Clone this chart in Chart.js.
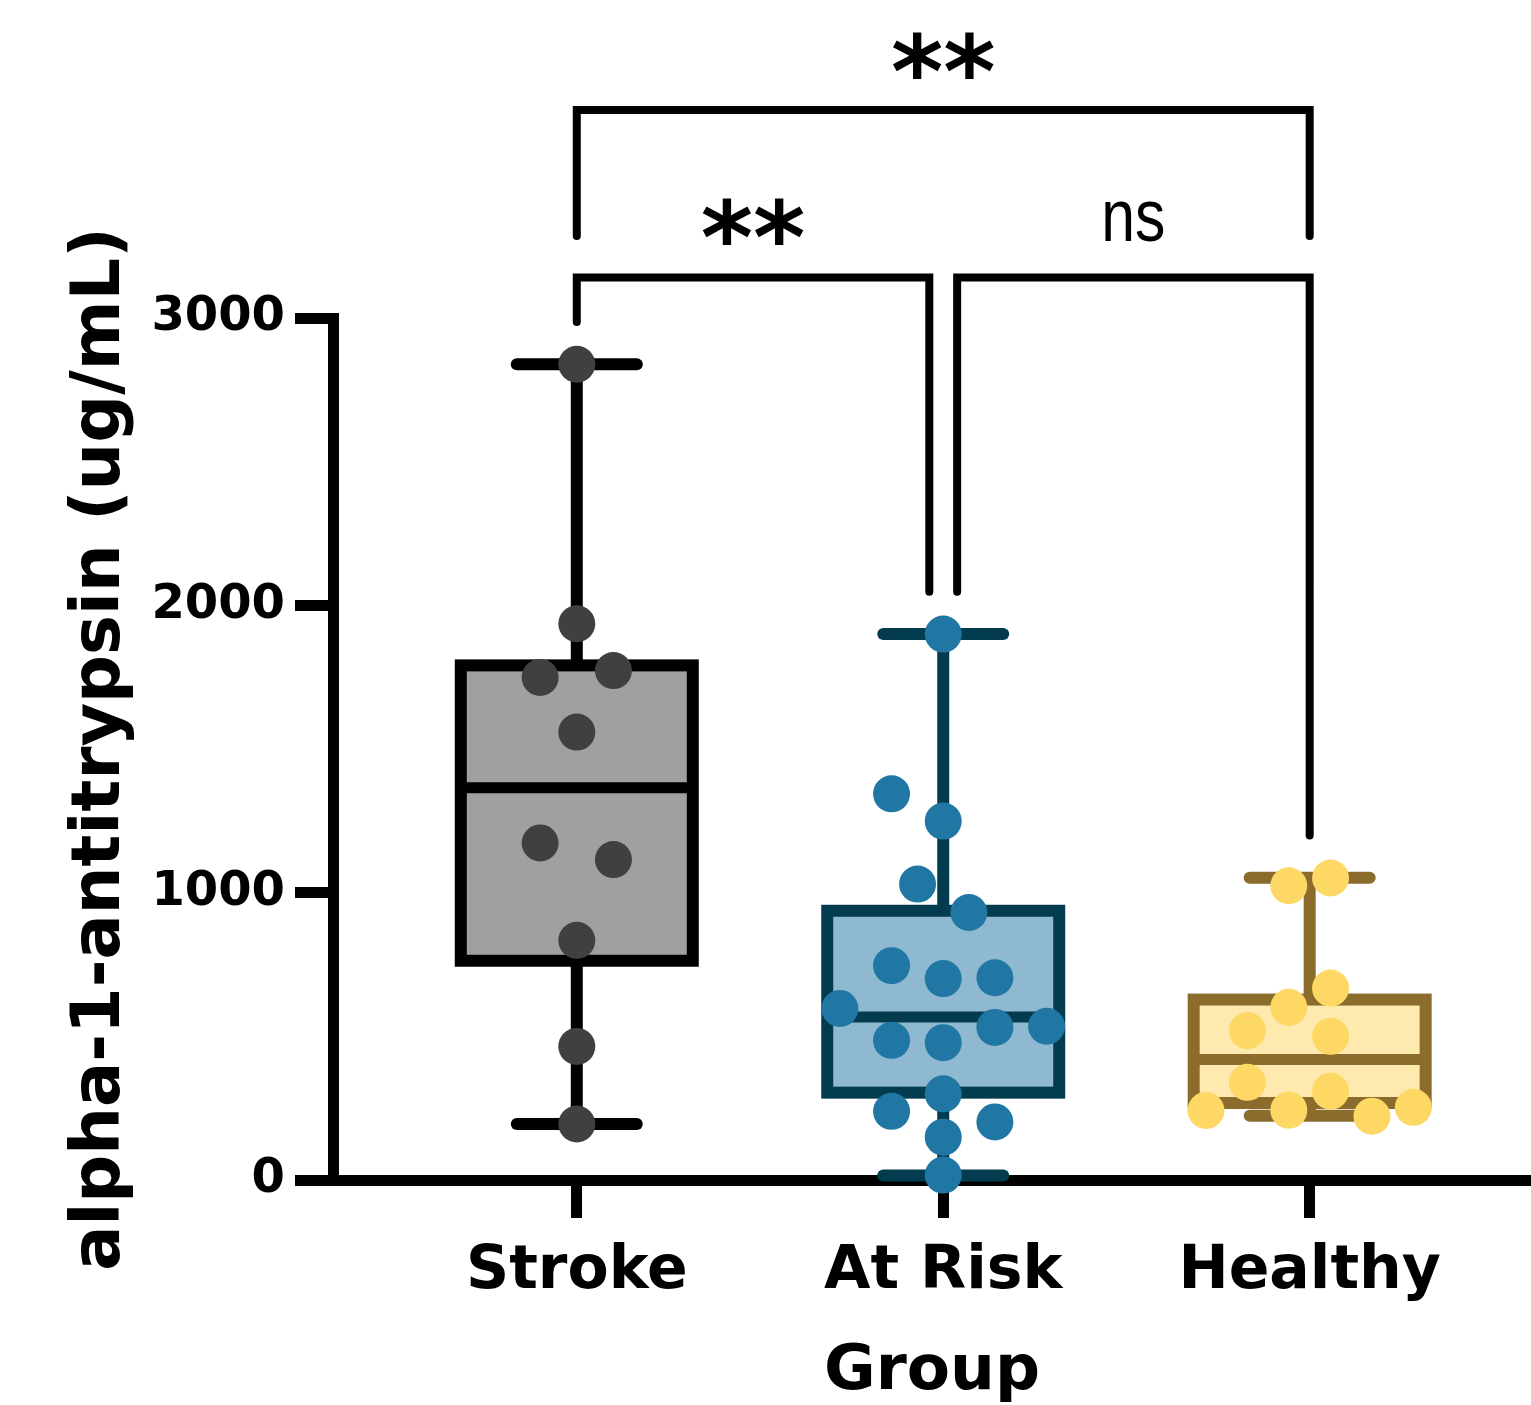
<!DOCTYPE html>
<html>
<head>
<meta charset="utf-8">
<script src="https://cdn.jsdelivr.net/npm/chart.js@4.4.1/dist/chart.umd.min.js"></script>
<style>
  html, body { margin: 0; padding: 0; background: #fff; }
</style>
</head>
<body>
<canvas id="chart" width="1531" height="1405"></canvas>
<script>
// Datos
const groups = ['Stroke', 'At Risk', 'Healthy'];
const yTicks = [0, 1000, 2000, 3000];

// min, Q1, mediana, Q3, max de cada grupo
const whiskerMin = [195, 16, 224];
const q1 = [763, 304, 268];
const median = [1365, 567, 419];
const q3 = [1791, 937, 628];
const whiskerMax = [2839, 1900, 1052];

// puntos individuales (desplazamiento horizontal en unidades de categoria)
const strokeValues = [2839, 1936, 1749, 1773, 1559, 1173, 1115, 834, 465, 195];
const strokeJitter = [0, 0, -0.1, 0.1, 0, -0.1, 0.1, 0, 0, 0];
const atRiskValues = [1900, 1344, 1249, 1030, 931, 746, 701, 704, 597, 486, 478, 531, 535, 300, 239, 202, 149, 17];
const atRiskJitter = [0, -0.141, 0, -0.07, 0.07, -0.141, 0, 0.141, -0.282, -0.141, 0, 0.141, 0.282, 0, -0.141, 0.141, 0, 0];
const healthyValues = [1024, 1051, 668, 601, 520, 500, 340, 309, 242, 243, 222, 253];
const healthyJitter = [-0.057, 0.057, 0.057, -0.057, -0.17, 0.057, -0.17, 0.057, -0.283, -0.057, 0.17, 0.283];

// comparaciones
const comparisons = [
    { from: 0, to: 2, label: '**' },
    { from: 0, to: 1, label: '**' },
    { from: 1, to: 2, label: 'ns' }
];

// Estilos
const boxFill = ['#a0a0a0', '#8fb9d1', '#feeaae'];
const boxLine = ['#000000', '#033b4f', '#8b6c2d'];
const dotColor = ['#404040', '#2077a4', '#fdd864'];

const pointsData = [
    strokeValues.map((v, i) => ({ x: 1 + strokeJitter[i], y: v })),
    atRiskValues.map((v, i) => ({ x: 2 + atRiskJitter[i], y: v })),
    healthyValues.map((v, i) => ({ x: 3 + healthyJitter[i], y: v }))
];

// bigotes (detras de las cajas)
const whiskerPlugin = {
    id: 'whiskers',
    beforeDatasetsDraw(chart) {
        const { ctx, scales: { x, y } } = chart;
        ctx.save();
        groups.forEach((g, i) => {
            const px = x.getPixelForValue(i + 1);
            const yMin = y.getPixelForValue(whiskerMin[i]);
            const yMax = y.getPixelForValue(whiskerMax[i]);
            ctx.strokeStyle = boxLine[i];
            ctx.lineWidth = 12;
            ctx.lineCap = 'butt';
            ctx.beginPath();
            ctx.moveTo(px, yMin);
            ctx.lineTo(px, yMax);
            ctx.stroke();
            ctx.lineCap = 'round';
            [yMin, yMax].forEach(py => {
                ctx.beginPath();
                ctx.moveTo(px - 60, py);
                ctx.lineTo(px + 60, py);
                ctx.stroke();
            });
        });
        ctx.restore();
    },
    // contorno de la caja y mediana
    afterDatasetDraw(chart, args) {
        if (args.index !== 0) return;
        const { ctx, scales: { y } } = chart;
        ctx.save();
        args.meta.data.forEach((bar, i) => {
            const p = bar.getProps(['x', 'y', 'base', 'width'], true);
            const top = Math.min(p.y, p.base);
            const h = Math.abs(p.base - p.y);
            ctx.strokeStyle = boxLine[i];
            ctx.lineWidth = 12;
            ctx.lineJoin = 'miter';
            ctx.strokeRect(p.x - p.width / 2, top, p.width, h);
            const my = y.getPixelForValue(median[i]);
            ctx.lineWidth = 11;
            ctx.beginPath();
            ctx.moveTo(p.x - p.width / 2, my);
            ctx.lineTo(p.x + p.width / 2, my);
            ctx.stroke();
        });
        ctx.restore();
    }
};

// corchetes de significancia
const bracketPlugin = {
    id: 'brackets',
    afterDraw(chart) {
        const { ctx, scales: { x, y } } = chart;
        const legGap = 147;      // espacio sobre el maximo (unidades de y)
        const innerShift = 0.038; // separacion entre corchetes vecinos
        ctx.save();
        ctx.strokeStyle = '#000';
        ctx.fillStyle = '#000';
        ctx.lineWidth = 8;
        ctx.lineCap = 'round';
        ctx.lineJoin = 'miter';
        comparisons.forEach(c => {
            let xa = c.from + 1, xb = c.to + 1, level, legA, legB, labelY;
            if (c.to - c.from > 1) {
                level = 3724; legA = legB = 3285; labelY = 3915;
            } else {
                level = 3141;
                legA = whiskerMax[c.from] + legGap;
                legB = whiskerMax[c.to] + legGap;
                if (c.from === 1) xa += innerShift;
                if (c.to === 1) xb -= innerShift;
                labelY = 3337;
            }
            const pxa = x.getPixelForValue(xa), pxb = x.getPixelForValue(xb);
            ctx.beginPath();
            ctx.moveTo(pxa, y.getPixelForValue(legA));
            ctx.lineTo(pxa, y.getPixelForValue(level));
            ctx.lineTo(pxb, y.getPixelForValue(level));
            ctx.lineTo(pxb, y.getPixelForValue(legB));
            ctx.stroke();

            const cx = (pxa + pxb) / 2;
            const cy = y.getPixelForValue(labelY);
            ctx.textAlign = 'center';
            ctx.textBaseline = 'alphabetic';
            if (c.label === 'ns') {
                ctx.font = '74px "Liberation Sans", Arial, sans-serif';
                const m = ctx.measureText(c.label);
                const base = cy + (m.actualBoundingBoxAscent - m.actualBoundingBoxDescent) / 2;
                ctx.save();
                ctx.translate(cx, base);
                ctx.scale(0.82, 1);
                ctx.fillText(c.label, 0, 0);
                ctx.restore();
            } else {
                ctx.font = 'bold 100px "DejaVu Sans", sans-serif';
                const m = ctx.measureText(c.label);
                const base = cy + (m.actualBoundingBoxAscent - m.actualBoundingBoxDescent) / 2;
                ctx.fillText(c.label, cx, base);
            }
        });
        ctx.restore();
    }
};

const ctx = document.getElementById('chart').getContext('2d');
new Chart(ctx, {
    type: 'bar',
    data: {
        datasets: [
            {
                type: 'bar',
                data: groups.map((g, i) => ({ x: i + 1, y: [q1[i], q3[i]] })),
                backgroundColor: boxFill,
                borderWidth: 0,
                barThickness: 232,
                order: 2,
                clip: false
            },
            ...pointsData.map((pts, i) => ({
                type: 'scatter',
                label: groups[i],
                data: pts,
                pointRadius: 18.5,
                pointHoverRadius: 18.5,
                pointBackgroundColor: dotColor[i],
                pointBorderWidth: 0,
                showLine: false,
                order: 1,
                clip: false
            }))
        ]
    },
    options: {
        responsive: false,
        devicePixelRatio: 1,
        animation: false,
        events: [],
        layout: {
            autoPadding: false,
            padding: { top: 318, left: 0, right: 0, bottom: 0 }
        },
        plugins: {
            legend: { display: false },
            tooltip: { enabled: false }
        },
        scales: {
            x: {
                type: 'linear',
                position: 'bottom',
                offset: false,
                min: 0.3347,
                max: 3.604,
                afterBuildTicks: axis => {
                    axis.ticks = groups.map((g, i) => ({ value: i + 1 }));
                },
                afterFit: axis => {
                    axis.height = 225;
                    axis.paddingLeft = 0;
                    axis.paddingRight = 0;
                },
                ticks: {
                    autoSkip: false,
                    maxRotation: 0,
                    padding: 18,
                    color: '#000',
                    font: { family: 'DejaVu Sans', size: 60, weight: 'bold' },
                    callback: value => groups[value - 1]
                },
                grid: {
                    offset: false,
                    drawOnChartArea: false,
                    drawTicks: true,
                    tickLength: 38,
                    tickWidth: 11,
                    tickColor: '#000'
                },
                border: { display: true, width: 11, color: '#000' },
                title: {
                    display: true,
                    text: 'Group',
                    color: '#000',
                    font: { family: 'DejaVu Sans', size: 63, weight: 'bold', lineHeight: 1 },
                    padding: { top: 0, bottom: 1 }
                }
            },
            y: {
                type: 'linear',
                position: 'left',
                min: 0,
                max: 3000,
                afterBuildTicks: axis => {
                    axis.ticks = yTicks.map(v => ({ value: v }));
                },
                afterFit: axis => {
                    axis.width = 333;
                    axis.paddingTop = 0;
                    axis.paddingBottom = 0;
                },
                ticks: {
                    padding: 10,
                    color: '#000',
                    font: { family: 'DejaVu Sans', size: 48, weight: 'bold' },
                    callback: value => String(value)
                },
                grid: {
                    drawOnChartArea: false,
                    drawTicks: true,
                    tickLength: 38,
                    tickWidth: 11,
                    tickColor: '#000'
                },
                border: { display: true, width: 11, color: '#000' },
                title: {
                    display: true,
                    text: 'alpha-1-antitrypsin (ug/mL)',
                    color: '#000',
                    font: { family: 'DejaVu Sans', size: 67, weight: 'bold', lineHeight: 1 },
                    padding: { top: 68, bottom: 0 }
                }
            }
        }
    },
    plugins: [whiskerPlugin, bracketPlugin]
});
</script>
</body>
</html>
